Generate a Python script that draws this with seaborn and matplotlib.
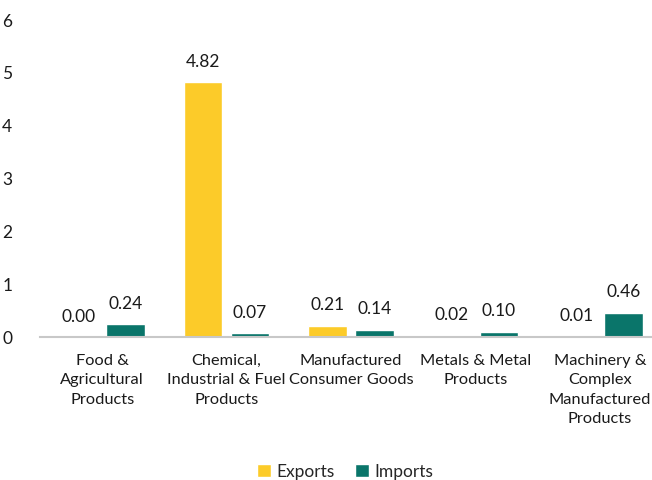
import pandas as pd
import matplotlib
matplotlib.use("Agg")
import matplotlib.pyplot as plt
import seaborn as sns

# Chart data
categories = ['Food &\nAgricultural\nProducts',
              'Chemical,\nIndustrial & Fuel\nProducts',
              'Manufactured\nConsumer Goods',
              'Metals & Metal\nProducts',
              'Machinery &\nComplex\nManufactured\nProducts']
exports = [0.00, 4.82, 0.21, 0.02, 0.01]
imports = [0.24, 0.07, 0.14, 0.10, 0.46]
series = ['Exports', 'Imports']
colors = ['#FCCB29', '#0A756A']

df = pd.DataFrame({
    'category': categories * 2,
    'value': exports + imports,
    'series': ['Exports'] * len(categories) + ['Imports'] * len(categories),
})

sns.set_style("white")
plt.rcParams['font.family'] = ['Lato', 'DejaVu Sans']

fig = plt.figure(figsize=(6.52, 4.80), dpi=100)
ax = fig.add_axes([40 / 652, 143 / 480, 622 / 652, 317 / 480])

sns.barplot(data=df, x='category', y='value', hue='series', hue_order=series,
            palette=colors, saturation=1, width=0.756, gap=0.18, ax=ax, legend=True)

for cont in ax.containers:
    ax.bar_label(cont, fmt='%.2f', padding=9, fontsize=12.5, color='#1a1a1a')

ax.set_ylim(0, 6)
ax.set_yticks(range(0, 7))
ax.set_xlabel('')
ax.set_ylabel('')
ax.tick_params(axis='both', length=0, labelsize=11.8, colors='#1a1a1a')
ax.tick_params(axis='y', pad=20, labelsize=12.5)
ax.tick_params(axis='x', pad=12)
for lbl in ax.get_xticklabels():
    lbl.set_linespacing(1.5)
for s in ['top', 'right', 'left']:
    ax.spines[s].set_visible(False)
ax.spines['bottom'].set_color('#c8c8c8')
ax.spines['bottom'].set_linewidth(1.5)

ax.legend(loc='upper center', bbox_to_anchor=(305 / 622, -0.35), ncol=2,
          frameon=False, fontsize=12.5, handlelength=0.8, handleheight=0.8,
          handletextpad=0.3, columnspacing=1.2)

fig.savefig('out.png', dpi=100)
